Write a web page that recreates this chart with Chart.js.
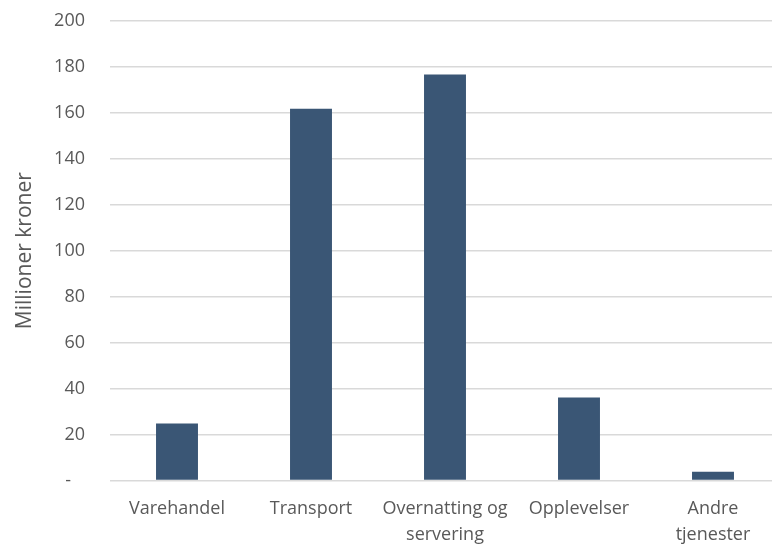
<!DOCTYPE html>
<html>
<head>
<meta charset="utf-8">
<script src="https://cdn.jsdelivr.net/npm/chart.js@4/dist/chart.umd.min.js"></script>
<style>
  html, body { margin: 0; padding: 0; background: white; overflow: hidden; }
  #wrap { position: absolute; left: 0; top: -15px; width: 780px; height: 574px; }
</style>
</head>
<body>
<div id="wrap"><canvas id="chart"></canvas></div>
<script>
const categories = [
    "Varehandel",
    "Transport",
    ["Overnatting og", "servering"],
    "Opplevelser",
    ["Andre", "tjenester"]
];
const values = [24.8, 161.7, 176.6, 36.2, 3.8];
const yTicks = [0, 20, 40, 60, 80, 100, 120, 140, 160, 180, 200];
const yTitle = "Millioner kroner";

const fontFamily = "'Open Sans', sans-serif";
const textColor = "#595959";

const ctx = document.getElementById("chart").getContext("2d");
const chart = new Chart(ctx, {
    type: 'bar',
    data: {
        labels: categories,
        datasets: [{
            data: values,
            backgroundColor: "#3a5675",
            barPercentage: 1,
            categoryPercentage: 0.313
        }]
    },
    options: {
        responsive: true,
        maintainAspectRatio: false,
        animation: false,
        layout: {
            padding: { top: 0, left: 12, right: 0, bottom: 4 }
        },
        plugins: {
            legend: { display: false },
            tooltip: { enabled: false }
        },
        scales: {
            x: {
                grid: { display: false },
                border: { display: false },
                ticks: {
                    color: textColor,
                    font: { family: fontFamily, size: 18, lineHeight: 1.4 },
                    padding: 8,
                    maxRotation: 0
                }
            },
            y: {
                min: 0,
                max: 200,
                afterBuildTicks: axis => {
                    axis.ticks = yTicks.map(v => ({ value: v }));
                },
                // fixed width so the plot starts where the reference does
                afterFit: axis => { axis.width = 98; },
                border: { display: false },
                grid: { color: "#d9d9d9", lineWidth: 1.5, drawTicks: false },
                ticks: {
                    color: textColor,
                    font: { family: fontFamily, size: 18 },
                    padding: 25,
                    callback: v => v === 0 ? "-   " : v
                },
                title: {
                    display: true,
                    text: yTitle,
                    color: textColor,
                    font: { family: fontFamily, size: 21 },
                    padding: { top: 0, bottom: 0 }
                }
            }
        }
    }
});
</script>
</body>
</html>
